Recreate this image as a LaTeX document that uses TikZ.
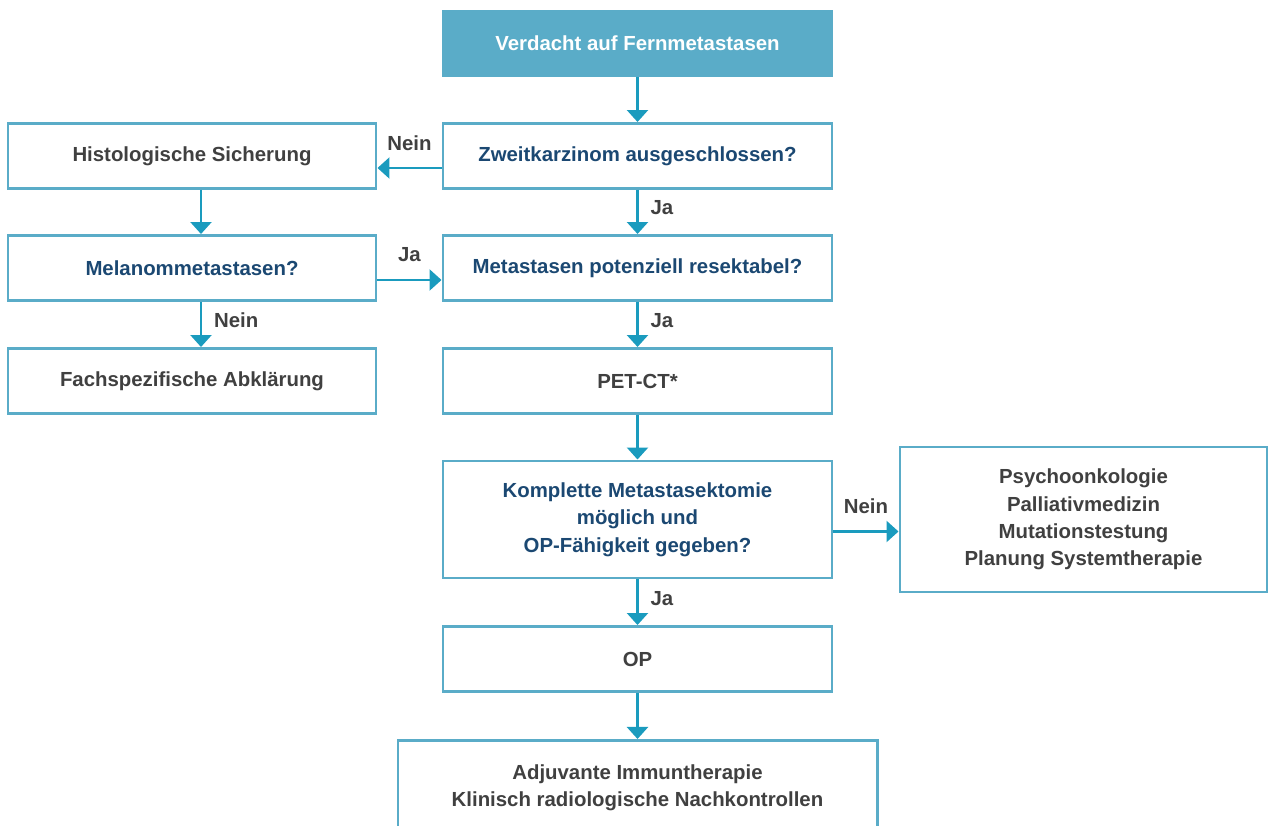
\documentclass[tikz,border=0pt]{standalone}
\usepackage{fontspec}
\setmainfont{Liberation Sans}
\definecolor{boxblue}{RGB}{90, 172, 200}
\definecolor{arrowteal}{RGB}{26, 155, 190}
\definecolor{askblue}{RGB}{27, 72, 114}
\definecolor{textgray}{RGB}{64, 64, 64}
\usetikzlibrary{arrows.meta, positioning, calc}

\tikzset{
  flowbox/.style={draw=boxblue, line width=1.7pt, fill=white, minimum width=7.78cm, minimum height=1.3cm, align=center, font=\fontsize{11.6}{15.6}\selectfont\bfseries, text=textgray},
  askbox/.style={flowbox, text=askblue},
  arr/.style={-{Triangle[width=0.42cm, length=0.24cm]}, line width=1.4pt, arrowteal},
  lbl/.style={font=\fontsize{11.6}{13}\selectfont\bfseries, text=textgray}
}

\begin{document}
\begin{tikzpicture}
  \useasboundingbox (0,0) rectangle (25.36,-16.52);
  \clip (0,0) rectangle (25.36,-16.52);

  % Start
  \node[flowbox, draw=boxblue, fill=boxblue, text=white] (start) at (12.75, -0.87) {Verdacht auf Fernmetastasen};

  % Main column
  \node[askbox] (zweit) at (12.75, -3.12) {Zweitkarzinom ausgeschlossen?};
  \node[askbox] (resekt) at (12.75, -5.36) {Metastasen potenziell resektabel?};
  \node[flowbox] (pet) at (12.75, -7.62) {PET-CT*};
  \node[askbox, minimum height=2.34cm] (komplett) at (12.75, -10.39) {Komplette Metastasektomie\\möglich und\\OP-Fähigkeit gegeben?};
  \node[flowbox] (op) at (12.75, -13.18) {OP};
  \node[flowbox, minimum width=9.58cm, minimum height=1.88cm, anchor=north] (adjuvant) at (12.75, -14.78) {Adjuvante Immuntherapie\\Klinisch radiologische Nachkontrollen};

  % Left column
  \node[flowbox, minimum width=7.36cm] (histo) at (3.84, -3.12) {Histologische Sicherung};
  \node[askbox, minimum width=7.36cm] (melanom) at (3.84, -5.36) {Melanommetastasen?};
  \node[flowbox, minimum width=7.36cm] (fach) at (3.84, -7.62) {Fachspezifische Abklärung};

  % Right
  \node[flowbox, minimum width=7.34cm, minimum height=2.9cm] (psycho) at (21.67, -10.39) {Psychoonkologie\\Palliativmedizin\\Mutationstestung\\Planung Systemtherapie};

  % Arrows
  \draw[arr] (start) -- (zweit);
  \draw[arr] (zweit) -- node[lbl, right=0.12cm, yshift=0.08cm] (ja1) {Ja} (resekt);
  \draw[arr] (resekt) -- node[lbl, right=0.12cm, yshift=0.08cm] (ja2) {Ja} (pet);
  \draw[arr] (pet) -- (komplett);
  \draw[arr] (komplett) -- node[lbl, right=0.12cm, yshift=0.08cm] (ja3) {Ja} (op);
  \draw[arr] (op) -- (adjuvant);

  \draw[arr] ([yshift=-0.24cm]zweit.west) -- node[lbl, midway, yshift=0.5cm] (nein1) {Nein} ([yshift=-0.24cm]histo.east);
  \draw[arr] ([yshift=-0.24cm]melanom.east) -- node[lbl, midway, yshift=0.5cm] (ja4) {Ja} ([yshift=-0.24cm]resekt.west);
  \draw[arr] ([yshift=-0.24cm]komplett.east) -- node[lbl, midway, yshift=0.5cm] (nein3) {Nein} ([yshift=-0.24cm]komplett.east -| psycho.west);

  \draw[arr] ([xshift=0.18cm]histo.south) -- ([xshift=0.18cm]melanom.north);
  \draw[arr] ([xshift=0.18cm]melanom.south) -- node[lbl, right=0.12cm, yshift=0.08cm] (nein2) {Nein} ([xshift=0.18cm]fach.north);
\end{tikzpicture}
\end{document}
